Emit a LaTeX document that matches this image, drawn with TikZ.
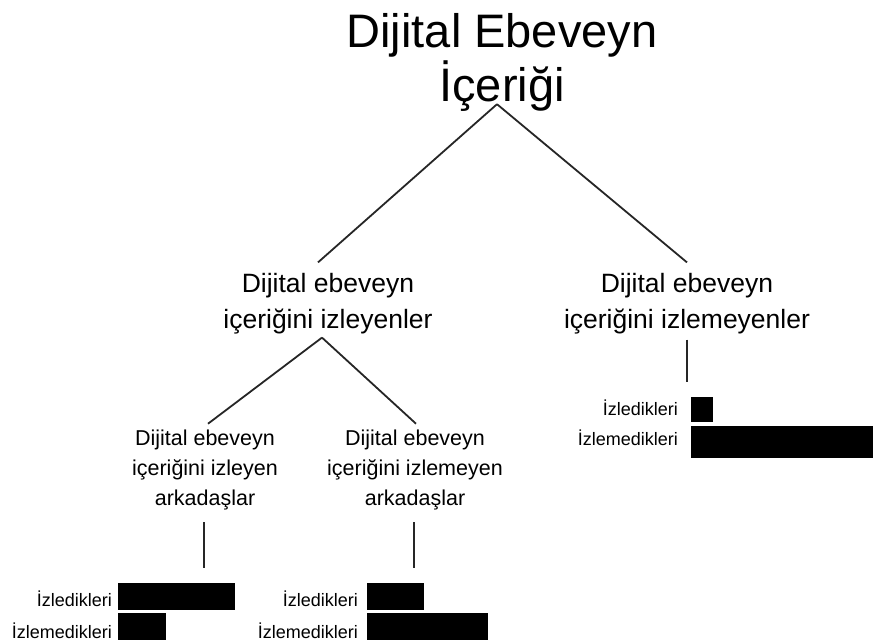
\documentclass[tikz,border=0pt]{standalone}
\usepackage{fontspec}
\setmainfont{Liberation Sans}
\begin{document}
\begin{tikzpicture}[x=1pt,y=-1pt,
  conn/.style={line width=1.8pt, black!85},
  titlebox/.style={align=center, inner sep=0pt, font=\fontsize{47}{54}\selectfont},
  lvtwo/.style={align=center, inner sep=0pt, font=\fontsize{26.5}{36}\selectfont},
  lvthree/.style={align=center, inner sep=0pt, font=\fontsize{21.5}{30}\selectfont},
  lab/.style={anchor=base east, inner sep=0pt, font=\fontsize{18}{20}\selectfont},
  bar/.style={fill=black, draw=none, inner sep=0pt, anchor=north west}]
\useasboundingbox (0,0) rectangle (873,644);

\node[titlebox] (root) at (502,62) {Dijital Ebeveyn\\İçeriği};
\node[lvtwo] (l2a) at (328,304) {Dijital ebeveyn\\içeriğini izleyenler};
\node[lvtwo] (l2b) at (687,304) {Dijital ebeveyn\\içeriğini izlemeyenler};
\node[lvthree] (l3a) at (205,470) {Dijital ebeveyn\\içeriğini izleyen\\arkadaşlar};
\node[lvthree] (l3b) at (415,470) {Dijital ebeveyn\\içeriğini izlemeyen\\arkadaşlar};

\coordinate (eb) at (687,382);
\coordinate (ea) at (204,568);
\coordinate (ec) at (414,568);

\draw[conn] ([xshift=-5pt,yshift=7pt]root.south) -- ([xshift=-10pt,yshift=11pt]l2a.north);
\draw[conn] ([xshift=-5pt,yshift=7pt]root.south) -- ([yshift=11pt]l2b.north);
\draw[conn] ([xshift=-6pt,yshift=-3pt]l2a.south) -- ([xshift=3pt,yshift=6pt]l3a.north);
\draw[conn] ([xshift=-6pt,yshift=-3pt]l2a.south) -- ([xshift=1pt,yshift=6pt]l3b.north);
\draw[conn] ([yshift=-5pt]l2b.south) -- (eb);
\draw[conn] ([xshift=-1pt,yshift=-12pt]l3a.south) -- (ea);
\draw[conn] ([xshift=-1pt,yshift=-12pt]l3b.south) -- (ec);

% right group
\node[lab] (rl1) at (678,415) {İzledikleri};
\node[lab] (rl2) at (678,445) {İzlemedikleri};
\node[bar, minimum width=22pt, minimum height=25pt] (rb1) at (691,397) {};
\node[bar, minimum width=182pt, minimum height=32pt] (rb2) at (691,426) {};

% left group
\node[lab] (al1) at (112,606) {İzledikleri};
\node[lab] (al2) at (112,638) {İzlemedikleri};
\node[bar, minimum width=117pt, minimum height=27pt] (ab1) at (118,583) {};
\node[bar, minimum width=48pt, minimum height=27pt] (ab2) at (118,613) {};

% middle group
\node[lab] (ml1) at (358,606) {İzledikleri};
\node[lab] (ml2) at (358,638) {İzlemedikleri};
\node[bar, minimum width=57pt, minimum height=27pt] (mb1) at (367,583) {};
\node[bar, minimum width=121pt, minimum height=27pt] (mb2) at (367,613) {};
\end{tikzpicture}
\end{document}
